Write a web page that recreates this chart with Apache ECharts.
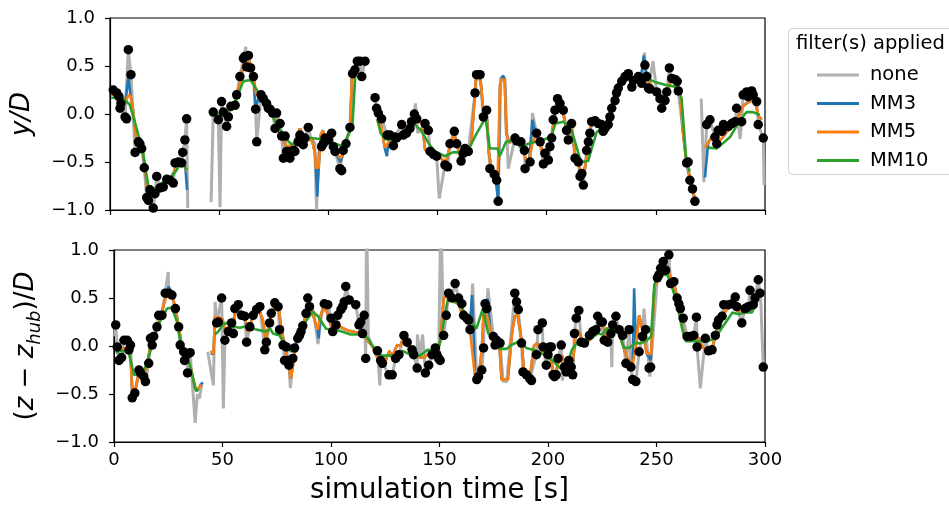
<!DOCTYPE html>
<html>
<head>
<meta charset="utf-8">
<script src="https://cdn.jsdelivr.net/npm/echarts@6/dist/echarts.min.js"></script>
<style>html,body{margin:0;padding:0;background:#fff;}#chart{width:949px;height:510px;}</style>
</head>
<body>
<div id="chart"></div>
<script>
// ---------- tick labels / categories ----------
const xTicks = [0, 50, 100, 150, 200, 250, 300];
const yTicks = [-1.0, -0.5, 0.0, 0.5, 1.0];
const seriesNames = ['none', 'MM3', 'MM5', 'MM10'];

// ---------- TOP panel (y/D) ----------
const topDots = [[1.5,0.25],[3.1,0.22],[4.1,0.18],[4.6,0.06],[5.0,0.11],[6.9,-0.03],[7.6,-0.05],[8.4,0.67],[9.6,0.41],[11.5,-0.40],[13.0,-0.29],[13.7,-0.31],[14.5,-0.36],[15.7,-0.56],[16.8,-0.87],[17.6,-0.90],[18.3,-0.79],[19.8,-0.98],[20.6,-0.83],[21.4,-0.65],[22.9,-0.77],[24.4,-0.76],[26.0,-0.68],[27.5,-0.69],[29.0,-0.72],[29.8,-0.51],[31.3,-0.50],[32.8,-0.51],[33.3,-0.40],[34.3,-0.27],[35.1,-0.05],
[47.3,0.02],[49.6,-0.06],[51.1,0.13],[51.9,0.02],[53.4,-0.13],[54.2,-0.03],[55.4,0.08],[57.3,0.09],[58.0,0.20],[59.5,0.39],[61.1,0.58],[61.8,0.60],[62.6,0.49],[63.4,0.61],[64.4,0.48],[65.7,0.39],[66.7,0.05],[67.2,-0.29],[69.2,0.20],[70.2,0.16],[71.7,0.11],[72.5,0.06],[73.3,0.05],[74.5,0.01],[75.6,-0.15],[76.3,0.01],[77.9,-0.10],[78.6,-0.23],[79.4,-0.46],[80.2,-0.23],[80.9,-0.39],[81.7,-0.39],[82.4,-0.46],[84.0,-0.38],[84.7,-0.39],[86.2,-0.29],[87.0,-0.22],[87.8,-0.28],[88.5,-0.32],[89.3,-0.25],[90.8,-0.14],[96.9,-0.34],[97.7,-0.31],[98.5,-0.25],[100.0,-0.27],[101.5,-0.20],[102.3,-0.34],[103.1,-0.39],[105.3,-0.57],[106.1,-0.59],[106.8,-0.38],[108.1,-0.31],[109.9,-0.14],[111.1,0.42],[112.2,0.46],[113.3,0.55],[114.5,0.55],[115.3,0.39],[116.8,0.55],
[121.4,0.17],[122.1,0.06],[122.9,0.01],[124.4,-0.05],[127.0,-0.22],[128.2,-0.22],[129.8,-0.33],[130.5,-0.24],[131.3,-0.25],[133.6,-0.11],[134.3,-0.22],[135.8,-0.20],[137.4,-0.15],[138.1,-0.08],[139.4,0.00],[140.5,-0.05],[144.3,-0.10],[145.8,-0.17],[146.6,-0.39],[148.1,-0.42],[149.6,-0.44],[153.4,-0.53],[154.6,-0.55],[155.7,-0.31],[157.7,-0.18],[158.8,-0.31],[160.8,-0.49],[161.8,-0.41],[162.6,-0.36],[164.1,-0.39],[167.2,0.22],[167.9,0.41],[169.5,0.41],[171.0,-0.03],[172.5,0.04],[174.0,-0.57],[176.0,-0.63],[177.1,-0.69],[177.8,-0.91],[185.5,-0.25],[186.3,-0.28],[188.2,-0.29],[189.8,-0.38],[190.1,-0.57],[192.4,-0.50],[195.4,-0.20],[197.0,-0.29],[198.5,-0.52],[199.2,-0.41],[200.8,-0.48],[201.5,-0.34],[202.3,-0.25],[203.0,-0.06],[203.8,0.04],[205.0,0.16],[206.1,0.11],[207.6,0.04],[209.1,-0.17],[209.9,-0.27],[211.4,-0.10],[213.0,-0.46],[214.5,-0.50],[215.3,-0.65],[216.1,-0.62],[216.8,-0.74],[218.3,-0.38],[219.1,-0.29],[219.8,-0.20],[220.6,-0.08],[222.1,-0.07],[223.6,-0.10],[225.1,-0.11],[225.9,-0.18],[226.7,-0.15],[228.2,-0.11],[229.0,-0.03],[229.8,0.06],[231.3,0.14],[232.0,0.22],[232.8,0.27],[234.4,0.34],[235.9,0.39],[237.4,0.42],[239.0,0.28],[239.7,0.35],[242.0,0.39],[243.5,0.32],[245.0,0.51],[245.8,0.39],[246.6,0.27],[247.3,0.26],[250.4,0.23],[251.9,0.16],[252.7,0.06],[254.2,0.14],[255.0,0.23],[256.2,0.48],[257.3,0.37],[258.8,0.36],[259.8,0.34],[260.3,0.24],[264.1,-0.51],[264.8,-0.50],[265.6,-0.69],[266.8,-0.78],[267.9,-0.91],
[273.3,-0.11],[274.8,-0.06],[277.1,-0.24],[277.9,-0.31],[278.6,-0.17],[280.2,-0.18],[281.0,-0.11],[283.2,-0.13],[284.8,-0.10],[286.3,-0.08],[287.0,0.06],[289.3,-0.08],[290.0,0.20],[291.6,0.23],[292.3,0.18],[293.9,0.24],[294.6,0.20],[296.2,0.13],[296.9,-0.11],[299.2,-0.25]];

const topNoneExtra = [[0.5,0.22],[8.0,0.5],[35.6,-0.98],[46.3,-0.92],[50.4,-0.97],[62.2,0.70],[66.2,0.2],[92.0,-0.25],[93.8,-0.30],[94.6,-1.0],[95.6,-0.40],[117.6,0.55],[139.9,0.11],[140.9,-0.20],[150.8,-0.88],[169.0,0.45],[179.0,0.38],[180.8,0.38],[182.4,-0.57],[193.5,0.01],[244.8,0.64],[248.7,0.55],[268.2,-0.95],[270.8,0.16],[272.0,-0.71],[288.6,-0.26],[299.6,-0.74]];

const topMM5 = [[0.5,0.2],[3,0.2],[5,0.15],[7,0.12],[8.5,0.2],[9.5,0.18],[10.5,0.05],[12,-0.25],[13.5,-0.3],[15,-0.4],[16,-0.55],[17,-0.8],[18.5,-0.85],[20,-0.82],[21.5,-0.76],[23,-0.76],[25,-0.72],[27,-0.69],[29,-0.62],[31,-0.52],[33,-0.48],[34.5,-0.55],[35.2,-0.6],
[47,0.0],[49,-0.02],[51,0.02],[53,-0.03],[55,0.05],[57,0.1],[58.5,0.2],[60,0.38],[61.5,0.55],[63,0.6],[64.5,0.5],[66,0.35],[67,0.2],[68.5,0.2],[70,0.16],[72,0.1],[73.5,0.03],[75,0.0],[77.9,-0.22],[80.9,-0.34],[84,-0.32],[87,-0.15],[88.5,-0.27],[90,-0.27],[92.5,-0.27],[93.8,-0.4],[94.3,-0.56],[95.6,-0.56],[96.5,-0.22],[97.5,-0.17],[99,-0.27],[101,-0.27],[103,-0.38],[105.5,-0.46],[107,-0.4],[108.5,-0.25],[110,-0.17],[110.8,0.42],[112,0.45],[113.5,0.55],[117.5,0.55],
[121.4,0.09],[122.5,0.05],[124.4,-0.15],[125.8,-0.35],[127.5,-0.3],[128.5,-0.27],[131,-0.27],[133.5,-0.21],[135.5,-0.2],[137.5,-0.12],[139.5,-0.1],[141.5,-0.07],[143,-0.1],[144.3,-0.37],[146,-0.4],[148,-0.42],[150,-0.44],[152,-0.47],[154,-0.5],[155.5,-0.35],[157.5,-0.22],[159,-0.3],[160.5,-0.45],[162,-0.4],[164,-0.38],[165.5,-0.3],[166.5,0.0],[167.5,0.35],[169,0.4],[170,0.3],[171,0.0],[172.5,0.0],[173.5,-0.4],[175,-0.6],[176.5,-0.65],[177.5,-0.72],[178.6,0.3],[179.3,0.36],[180.8,0.36],[181.5,-0.2],[183,-0.3],[185,-0.25],[187,-0.3],[189,-0.35],[190.5,-0.48],[192,-0.48],[193.5,-0.3],[195,-0.22],[197,-0.3],[198.5,-0.45],[200,-0.45],[201.5,-0.35],[202.5,-0.2],[204,0.02],[205.5,0.12],[207,0.06],[208.5,-0.1],[210,-0.22],[211.5,-0.15],[213,-0.42],[214.5,-0.52],[216,-0.63],[217,-0.65],[218.5,-0.4],[220,-0.15],[221.5,-0.08],[223.5,-0.1],[225.5,-0.14],[227,-0.14],[229,-0.05],[231,0.12],[233,0.27],[235,0.36],[237,0.4],[239,0.38],[241,0.38],[243,0.35],[244.5,0.4],[246,0.37],[248,0.3],[250,0.23],[252,0.12],[254,0.12],[255.5,0.25],[257,0.35],[259,0.34],[260.5,0.28],[261.5,0.1],[262.5,-0.2],[264,-0.5],[265.5,-0.65],[267,-0.8],[268,-0.9],
[272.5,-0.35],[274,-0.3],[276,-0.22],[278,-0.3],[280,-0.26],[282,-0.2],[284,-0.15],[286,-0.1],[288,-0.02],[290,0.08],[292,0.12],[294,0.14],[295.5,0.12],[297,-0.02],[298.5,-0.06]];

const topMM3Extra = [[8.4,0.38],[35.3,-0.79],[66.6,0.05],[94.9,-0.86],[105.5,-0.5],[126.8,-0.44],[177.8,-0.91],[180.0,0.40],[193.5,-0.06],[244.5,0.61],[272.5,-0.66]];

const topMM10 = [[0.5,0.17],[3,0.17],[5.5,0.17],[7,0.14],[9,0.1],[11,-0.05],[13,-0.22],[15,-0.38],[16.5,-0.6],[17.5,-0.74],[19,-0.79],[21,-0.77],[23,-0.73],[25,-0.7],[27.5,-0.67],[30,-0.6],[32,-0.53],[33.5,-0.51],[34.5,-0.56],[35.3,-0.58],
[47,0.0],[50,0.0],[52,0.0],[54,0.03],[56,0.08],[58,0.16],[60,0.28],[61,0.34],[63,0.35],[64.5,0.35],[66,0.3],[67.5,0.24],[69.5,0.16],[72,0.06],[74,0.0],[76.3,-0.11],[78,-0.16],[80,-0.24],[82.4,-0.30],[84,-0.32],[86,-0.28],[88,-0.25],[92,-0.25],[96,-0.26],[100,-0.27],[102,-0.3],[105.7,-0.33],[107.5,-0.3],[109.5,-0.2],[111,-0.13],[111.8,0.18],[112.5,0.48],[114,0.52],[117.3,0.55],
[122.3,-0.05],[124,-0.2],[126,-0.26],[128,-0.27],[130,-0.26],[132,-0.22],[134,-0.18],[136,-0.15],[138,-0.12],[140,-0.12],[142,-0.16],[144,-0.23],[146.6,-0.33],[149,-0.39],[153.4,-0.44],[157,-0.4],[160.8,-0.4],[164,-0.38],[168,-0.2],[172,-0.04],[174,-0.36],[177.5,-0.36],[178.5,-0.44],[181.4,-0.29],[186,-0.27],[188,-0.35],[191.5,-0.31],[198,-0.27],[202,-0.24],[204,-0.10],[207.6,-0.08],[211.4,-0.17],[213,-0.29],[215.7,-0.50],[219,-0.49],[220.6,-0.36],[222.9,-0.19],[225,-0.15],[227,-0.1],[229,0.02],[231,0.18],[233,0.32],[239.7,0.38],[244,0.39],[250,0.33],[255,0.30],[260.3,0.28],[261.8,0.16],[264,-0.50],[265.6,-0.60],
[274,-0.35],[277.8,-0.36],[281,-0.30],[284,-0.24],[288.6,-0.06],[291.6,0.02],[294.6,0.02],[297.6,-0.01]];

const topGaps = [[35.7,46.2],[117.8,121.2],[268.4,270.6]];

// ---------- BOTTOM panel ((z - z_hub)/D) ----------
const botDots = [[0.8,0.22],[1.5,-0.01],[2.3,-0.15],[3.5,-0.12],[4.6,0.06],[6.1,0.06],[6.9,-0.04],[7.6,0.01],[8.4,-0.54],[9.6,-0.49],[11.5,-0.25],[12.2,-0.28],[13.7,-0.32],[14.5,-0.37],[16.0,-0.18],[16.8,0.08],[17.6,0.01],[18.3,0.10],[19.8,0.20],[20.6,0.32],[22.1,0.32],[23.6,0.55],[25.2,0.55],[26.7,0.53],[28.3,0.39],[29.8,0.20],[30.5,0.01],[32.1,-0.06],[32.5,-0.15],[33.6,-0.09],[33.9,-0.28],[35.1,-0.07],
[47.3,0.24],[48.1,0.25],[49.6,0.50],[51.1,0.06],[52.7,0.15],[54.2,0.24],[55.0,0.13],[55.7,0.39],[57.3,0.43],[58.8,0.32],[60.3,0.31],[61.1,0.04],[62.6,0.20],[64.1,0.32],[65.7,0.38],[67.2,0.41],[69.5,-0.04],[70.2,0.04],[71.7,0.24],[72.5,0.34],[74.1,0.45],[75.6,0.41],[76.3,0.17],[77.9,0.01],[78.6,-0.15],[79.4,-0.01],[80.2,-0.15],[80.6,-0.20],[82.4,-0.13],[83.2,-0.02],[84.7,0.08],[85.5,0.11],[86.2,0.15],[87.0,0.21],[88.5,0.34],[89.3,0.50],[90.1,0.41],[96.9,0.44],[98.5,0.43],[100.0,0.29],[100.8,0.15],[102.3,0.22],[103.1,0.32],[104.6,0.38],[105.4,0.41],[106.1,0.46],[106.8,0.62],[108.4,0.48],[111.4,0.43],[112.9,0.22],[113.7,0.25],[114.5,0.13],[115.3,0.32],[116.0,-0.13],[121.4,-0.05],[122.9,-0.15],[123.7,-0.18],[126.7,-0.30],[128.2,-0.30],[129.8,-0.13],[131.3,-0.09],[133.6,0.11],[135.1,0.04],[137.4,-0.04],[138.1,-0.09],[139.7,-0.23],[143.5,-0.28],[145.0,-0.20],[146.6,-0.09],[148.1,-0.02],[148.8,-0.09],[149.6,-0.13],[150.3,-0.15],[151.9,0.11],[153.1,0.32],[154.2,0.55],[155.7,0.50],[157.2,0.65],[158.8,0.50],[160.3,0.44],[161.1,0.32],[162.6,0.29],[163.4,0.27],[164.1,0.17],[167.2,-0.35],[168.0,-0.32],[169.5,-0.25],[170.3,-0.02],[171.0,0.44],[171.8,0.39],[174.8,0.10],[175.6,0.01],[176.3,0.06],[177.9,0.03],[184.7,0.55],[185.5,0.46],[186.3,0.38],[187.8,0.03],[188.5,-0.27],[190.1,-0.30],[191.6,-0.34],[192.4,-0.36],[194.7,-0.09],[195.4,0.17],[197.4,0.24],[197.7,-0.01],[199.2,-0.20],[200.0,-0.09],[200.8,-0.01],[201.5,-0.01],[202.3,-0.30],[203.0,-0.32],[203.8,-0.30],[204.6,-0.13],[206.1,0.01],[207.6,-0.22],[208.4,-0.27],[209.6,-0.15],[210.7,-0.22],[211.4,-0.30],[212.2,0.13],[213.0,0.29],[214.2,0.37],[215.3,0.04],[216.8,0.03],[219.1,0.11],[220.6,0.15],[222.1,0.17],[222.9,0.31],[224.4,0.25],[225.1,0.25],[225.9,0.06],[227.5,0.04],[229.0,0.13],[229.8,0.22],[231.3,0.31],[232.8,0.17],[234.4,0.11],[235.9,-0.18],[237.4,0.17],[238.2,-0.22],[239.0,-0.35],[240.5,-0.37],[242.0,-0.06],[243.5,0.10],[245.0,0.17],[246.6,-0.23],[247.3,-0.22],[250.4,0.71],[251.1,0.74],[251.9,0.81],[253.1,0.88],[254.2,0.79],[255.7,0.95],[256.5,0.65],[258.0,0.67],[259.5,0.50],[260.3,0.44],[261.0,0.39],[262.3,0.29],[264.1,0.10],[265.6,0.10],[267.2,0.11],[268.4,0.30],[268.7,-0.01],[272.5,0.08],[274.0,-0.05],[275.6,-0.04],[277.1,0.11],[277.9,0.22],[278.6,0.27],[280.2,0.31],[281.0,0.43],[283.2,0.43],[284.8,0.44],[286.3,0.51],[287.0,0.41],[289.3,0.24],[290.8,0.39],[292.3,0.41],[293.1,0.58],[294.6,0.43],[295.4,0.50],[296.9,0.69],[297.7,0.55],[299.2,-0.22]];

const botNoneExtra = [[0.4,0.1],[25.0,0.77],[37.4,-0.80],[38.4,-0.5],[39.3,-0.55],[40.5,-0.4],[43.2,-0.06],[45.8,-0.41],[46.6,0.46],[50.4,-0.65],[81.3,-0.44],[92.0,0.36],[94.0,0.02],[95.5,0.30],[116.4,1.4],[117.2,0.1],[119.0,0.0],[122.5,-0.41],[139.8,0.12],[141.0,-0.1],[142.2,0.12],[150.6,1.4],[165.3,0.65],[172.3,0.60],[179.3,-0.37],[181.0,-0.37],[206.6,-0.36],[229.4,-0.22],[244.2,0.39],[246.9,-0.32],[270.2,-0.44],[298.0,0.5]];

const botMM5 = [[0.5,0.0],[2,-0.04],[4,-0.02],[6,-0.04],[7.5,-0.02],[8.3,-0.44],[10,-0.44],[11.5,-0.28],[13.5,-0.32],[15,-0.22],[16.8,0.0],[19,0.13],[21,0.26],[23,0.44],[25,0.58],[26.5,0.55],[28.3,0.39],[29.8,0.2],[31.3,0.0],[33.5,-0.1],[35.5,-0.24],[37.5,-0.45],[38.5,-0.46],[40,-0.4],
[44.5,-0.05],[45.8,-0.08],[46.6,0.3],[48,0.3],[50,0.28],[51.5,0.12],[53,0.2],[54.5,0.22],[56,0.35],[57.5,0.37],[59,0.32],[60.5,0.28],[61.5,0.15],[62.5,0.2],[64,0.3],[65.5,0.35],[67,0.36],[68.5,0.28],[70,0.08],[71.5,0.22],[73,0.36],[74.5,0.44],[76,0.38],[77,0.2],[78.5,0.02],[80,-0.15],[81.5,-0.34],[82.5,-0.2],[83.5,-0.05],[85,0.1],[87,0.2],[88.5,0.34],[90.1,0.40],[92,0.3],[93.8,0.17],[95,0.3],[96.4,0.40],[98,0.36],[100,0.21],[102,0.2],[104,0.2],[106,0.18],[108,0.16],[110,0.15],[112,0.14],[114,0.14],[115.5,0.12],[117,0.05],[119,0.0],[121,-0.1],[123,-0.22],[124.5,-0.2],[126,-0.1],[127,-0.05],[128,-0.12],[130.5,0.01],[132,0.0],[133.6,0.11],[135,0.02],[137,-0.1],[139,-0.1],[141,-0.12],[143,-0.12],[145,-0.08],[147,-0.05],[149,-0.06],[150.3,0.05],[152,0.5],[154,0.52],[156.5,0.46],[158.8,0.44],[161,0.29],[163,0.25],[164,0.17],[166.5,-0.35],[168,-0.35],[169.5,-0.03],[170.5,0.42],[171.8,0.32],[173.3,0.18],[175,0.05],[177.5,0.05],[178.6,-0.35],[181.5,-0.35],[183.5,0.15],[184.7,0.31],[186,0.32],[187.8,0.06],[189,-0.28],[191.6,-0.34],[193.5,0.0],[195,0.03],[197,-0.04],[199,-0.1],[201,-0.1],[202.3,-0.26],[203.8,-0.26],[205,-0.15],[206.5,-0.1],[208,-0.25],[211,-0.27],[213,0.17],[214.5,0.14],[216,0.04],[219,0.06],[221,0.1],[222.5,0.15],[224,0.25],[225.5,0.22],[227,0.08],[229,0.1],[230.5,0.2],[232,0.15],[233,0.11],[235.8,-0.08],[237.4,-0.17],[239,-0.2],[240.5,0.0],[242,0.32],[243.5,0.17],[245.5,-0.08],[247.5,-0.08],[249,0.6],[250.5,0.72],[252.5,0.8],[254.5,0.85],[256.5,0.72],[258.5,0.6],[260,0.45],[261.5,0.3],[262.5,0.12],[264,0.05],[266,0.08],[268,0.1],[269.5,0.08],[271,0.0],[273,-0.05],[275,-0.08],[276.5,0.05],[278,0.18],[279.5,0.25],[281,0.33],[283,0.4],[285,0.42],[287,0.38],[289,0.35],[291,0.38],[293,0.4],[295,0.45],[297,0.52]];

const botMM3Extra = [[8.4,-0.45],[25.2,0.62],[41.0,-0.38],[44.5,-0.08],[94.3,0.08],[165.0,0.53],[172.2,0.49],[239.7,0.60],[247.3,-0.15]];

const botMM10 = [[0.8,-0.07],[3,-0.05],[5.5,-0.06],[7,-0.09],[9.2,-0.30],[12.2,-0.30],[14.5,-0.22],[17.6,0.01],[20.6,0.23],[24.4,0.39],[26.7,0.40],[28.9,0.26],[31.3,-0.04],[34.4,-0.15],[36,-0.3],[37.9,-0.47],[39,-0.45],
[46.5,0.12],[48.1,0.15],[50,0.22],[52,0.24],[55,0.2],[58,0.19],[60,0.2],[62,0.21],[64,0.18],[66,0.17],[68,0.16],[70,0.15],[72,0.18],[73.3,0.13],[76.3,0.11],[79.4,0.0],[81.5,-0.06],[83.5,0.01],[87,0.21],[91.5,0.36],[94,0.31],[97.7,0.18],[102,0.17],[105,0.15],[109,0.12],[114.5,0.12],[117,0.08],[120.6,-0.05],[123,-0.1],[129.8,-0.10],[133,-0.05],[137.4,-0.10],[141,-0.10],[144.5,-0.04],[148,-0.05],[150,0.01],[151,0.13],[153.8,0.48],[156,0.48],[158.8,0.44],[162.6,0.32],[167,0.18],[170,0.39],[172.5,0.13],[175,0.08],[177.9,-0.03],[181,-0.03],[183,0.01],[187,0.05],[190,-0.02],[194.7,-0.05],[199,-0.10],[202,-0.15],[206,-0.24],[209,-0.18],[211,-0.04],[214.7,0.07],[217.5,0.06],[220,0.08],[223,0.13],[225,0.12],[227.5,0.19],[229,0.11],[231.5,0.17],[233,0.12],[235,-0.02],[237.5,-0.02],[240,0.03],[242.5,0.03],[245,0.05],[247.5,0.10],[249,0.64],[251,0.74],[255,0.74],[256.8,0.64],[259.5,0.44],[261.7,0.19],[263.5,0.05],[266,0.05],[270,0.05],[273.5,0.05],[277,0.08],[279,0.15],[281.7,0.24],[285,0.35],[288,0.33],[291,0.35],[294,0.35],[297,0.49]];

const botGaps = [[41.3,43.1]];

// ---------- helpers (assemble library data from the arrays above) ----------
function sortT(a){ return a.slice().sort((p,q)=>p[0]-q[0]); }
function override(base, extra){
  const keep = base.filter(p => !extra.some(e => Math.abs(e[0]-p[0]) < 0.45));
  return sortT(keep.concat(extra));
}
function breakAt(pts, gaps){
  const s = sortT(pts), out = [];
  for (let i = 0; i < s.length; i++){
    out.push(s[i]);
    const n = s[i+1];
    if (n && gaps.some(g => s[i][0] <= g[0] && n[0] >= g[1])) out.push([(s[i][0]+n[0])/2, '-']);
  }
  return out;
}

const colors = {none:'#b0b0b0', MM3:'#1f77b4', MM5:'#ff7f0e', MM10:'#2ca02c'};
const FONT = 'DejaVu Sans';

function panelSeries(idx, dots, noneExtra, mm3Extra, mm5, mm10, gaps){
  const lines = {
    none: breakAt(dots.concat(noneExtra), gaps),
    MM3: breakAt(override(mm5, mm3Extra), gaps),
    MM5: breakAt(mm5, gaps),
    MM10: breakAt(mm10, gaps)
  };
  const out = seriesNames.map((name, k) => ({
    name: name, type: 'line', xAxisIndex: idx, yAxisIndex: idx, z: 2 + k * 0.1,
    data: lines[name], showSymbol: false, symbol: 'none', clip: true,
    lineStyle: {color: colors[name], width: name === 'none' ? 3 : 2.6},
    itemStyle: {color: colors[name]},
    connectNulls: false, animation: false, silent: true
  }));
  out.push({
    name: 'positions', type: 'scatter', xAxisIndex: idx, yAxisIndex: idx, z: 5,
    data: dots, symbol: 'circle', symbolSize: 9.5,
    itemStyle: {color: '#000', opacity: 1, borderWidth: 0}, animation: false, silent: true, clip: true
  });
  return out;
}

const yFmt = v => v.toFixed(1).replace('-', '\u2212');

function xAxisCfg(idx, withLabels){
  return {
    gridIndex: idx, type: 'value', min: xTicks[0], max: xTicks[xTicks.length-1], interval: 50,
    axisLine: {show: true, onZero: false, lineStyle: {color: '#000', width: 1.2}},
    axisTick: {show: true, length: 5, lineStyle: {color: '#000', width: 1.2}},
    axisLabel: {show: withLabels, fontSize: 18, color: '#000', fontFamily: FONT, margin: 9},
    splitLine: {show: false},
    name: withLabels ? 'simulation time [s]' : '',
    nameLocation: 'middle', nameGap: 35,
    nameTextStyle: {fontSize: 27.5, color: '#000', fontFamily: FONT}
  };
}
function yAxisCfg(idx, name, rich){
  return {
    gridIndex: idx, type: 'value', min: yTicks[0], max: yTicks[yTicks.length-1], interval: 0.5,
    axisLine: {show: true, onZero: false, lineStyle: {color: '#000', width: 1.2}},
    axisTick: {show: true, length: 5, lineStyle: {color: '#000', width: 1.2}},
    axisLabel: {fontSize: 18, color: '#000', fontFamily: FONT, margin: 15, formatter: yFmt},
    splitLine: {show: false},
    name: name, nameLocation: 'middle', nameRotate: 90, nameGap: 70,
    nameTextStyle: {fontSize: 26, color: '#000', fontFamily: FONT, rich: rich}
  };
}

const richLbl = {
  i: {fontSize: 26, fontStyle: 'italic', fontFamily: FONT, color: '#000', lineHeight: 36},
  u: {fontSize: 26, fontStyle: 'normal', fontFamily: FONT, color: '#000', lineHeight: 36},
  s: {fontSize: 18, fontStyle: 'italic', fontFamily: FONT, color: '#000', lineHeight: 18, padding: [18,0,0,0]}
};

const chart = echarts.init(document.getElementById('chart'), null, {renderer: 'canvas'});
chart.setOption({
  animation: false,
  backgroundColor: '#fff',
  grid: [
    {left: 110, top: 18, width: 655, height: 192, show: true, borderColor: '#000', borderWidth: 1.2, backgroundColor: 'transparent'},
    {left: 110, top: 250, width: 655, height: 192, show: true, borderColor: '#000', borderWidth: 1.2, backgroundColor: 'transparent'}
  ],
  xAxis: [xAxisCfg(0, false), xAxisCfg(1, true)],
  yAxis: [
    yAxisCfg(0, '{i|y/D}', richLbl),
    yAxisCfg(1, '{u|(}{i|z}{u| \u2212 }{i|z}{s|hub}{u|)/}{i|D}', richLbl)
  ],
  legend: {
    data: seriesNames, orient: 'vertical', left: 812, top: 60,
    itemWidth: 42, itemHeight: 3, itemGap: 8.5, icon: 'rect',
    selectedMode: false,
    textStyle: {fontSize: 19.5, color: '#000', fontFamily: FONT, lineHeight: 20, padding: [0,0,0,6]}
  },
  graphic: [
    {type: 'rect', z: -1, shape: {x: 788.5, y: 28.5, width: 175, height: 146, r: 4},
     style: {fill: '#fff', stroke: '#d0d0d0', lineWidth: 1}},
    {type: 'text', z: 10, x: 796, y: 34,
     style: {text: 'filter(s) applied', fontSize: 19.5, fill: '#000', fontFamily: FONT, verticalAlign: 'top'}}
  ],
  series: [].concat(
    panelSeries(0, topDots, topNoneExtra, topMM3Extra, topMM5, topMM10, topGaps),
    panelSeries(1, botDots, botNoneExtra, botMM3Extra, botMM5, botMM10, botGaps)
  )
});
</script>
</body>
</html>
